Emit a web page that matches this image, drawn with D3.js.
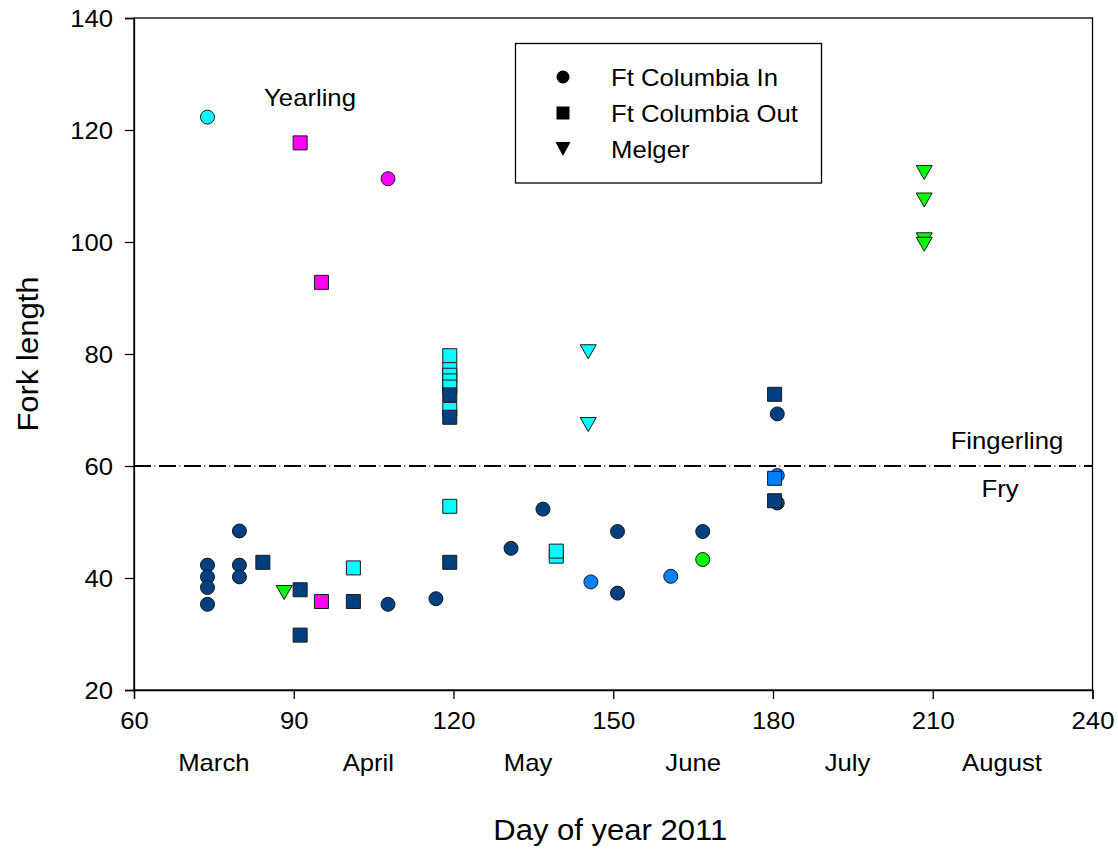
<!DOCTYPE html>
<html>
<head>
<meta charset="utf-8">
<script src="https://cdn.jsdelivr.net/npm/d3@7/dist/d3.min.js"></script>
<style>
  html, body { margin: 0; padding: 0; background: #fff; }
  svg { display: block; font-family: "Liberation Sans", Arial, sans-serif; }
</style>
</head>
<body>
<svg id="chart" width="1118" height="850"></svg>
<script>
// Fork length of juvenile fish by day of year, 2011.
// Each entry: [day of year, fork length, colour group]
const ftColumbiaIn = [
  [73.8, 122.3, "C"], [107.7, 111.3, "M"],
  [73.8, 42.3, "N"], [73.8, 40.2, "N"], [73.8, 38.3, "N"], [73.8, 35.3, "N"],
  [79.8, 48.4, "N"], [79.8, 42.3, "N"], [79.8, 40.2, "N"],
  [107.7, 35.3, "N"], [116.7, 36.3, "N"], [130.8, 45.3, "N"], [136.8, 52.3, "N"],
  [145.8, 39.3, "B"], [150.8, 48.3, "N"], [150.8, 37.3, "N"], [160.8, 40.3, "B"],
  [166.8, 48.3, "N"], [166.8, 43.3, "G"],
  [180.8, 69.3, "N"], [180.8, 58.3, "B"], [180.8, 53.4, "N"]
];

const ftColumbiaOut = [
  [91.2, 117.7, "M"], [95.2, 92.8, "M"],
  [84.2, 42.8, "N"], [91.2, 37.9, "N"], [91.2, 29.8, "N"], [95.2, 35.8, "M"],
  [101.2, 41.8, "C"], [101.2, 35.8, "N"],
  [119.3, 79.7, "C"], [119.3, 77.2, "C"], [119.3, 76.2, "C"], [119.3, 75.2, "C"],
  [119.3, 74.1, "C"], [119.3, 72.7, "N"], [119.3, 70.1, "C"], [119.3, 68.7, "N"],
  [119.3, 52.8, "C"], [119.3, 42.8, "N"],
  [139.3, 43.9, "C"], [139.3, 44.8, "C"],
  [180.3, 72.8, "N"], [180.3, 57.8, "B"], [180.3, 53.8, "N"]
];

const melger = [
  [88.2, 37.4, "G"], [145.3, 80.4, "C"], [145.3, 67.4, "C"],
  [208.4, 112.4, "G"], [208.4, 107.5, "G"], [208.4, 100.4, "G"], [208.4, 99.6, "G"]
];

const xTicks = [60, 90, 120, 150, 180, 210, 240];
const yTicks = [20, 40, 60, 80, 100, 120, 140];
const monthNames = ["March", "April", "May", "June", "July", "August"];
const monthDays = [75, 104, 134, 165, 194, 223];
const stageBoundary = 60;

const groupColor = {
  N: "#003f80",
  B: "#0080ff",
  C: "#00ffff",
  M: "#ff00ff",
  G: "#00ff00"
};

// text is drawn slightly widened
const SX = 1.07;
const FONT = 24;
const TITLE_FONT = 29;

const svg = d3.select("#chart");
const plot = { left: 134, right: 1092.5, top: 18, bottom: 690 };

const x = d3.scaleLinear().domain([60, 240]).range([plot.left, plot.right]);
const y = d3.scaleLinear().domain([20, 140]).range([plot.bottom, plot.top]);

function label(parent, px, py, str, size, anchor, extra = "") {
  return parent.append("text")
    .attr("transform", `translate(${px},${py}) ${extra} scale(${SX},1)`)
    .attr("text-anchor", anchor)
    .attr("fill", "#000")
    .style("font-size", size + "px")
    .text(str);
}

// frame
svg.append("rect")
  .attr("x", plot.left).attr("y", plot.top)
  .attr("width", plot.right - plot.left).attr("height", plot.bottom - plot.top)
  .attr("fill", "none").attr("stroke", "#000").attr("stroke-width", 1.3);

// axes
const xAxis = svg.append("g")
  .attr("transform", `translate(0,${plot.bottom})`)
  .call(d3.axisBottom(x).tickValues(xTicks).tickSize(9).tickPadding(12.5).tickFormat(d3.format("d")));
const yAxis = svg.append("g")
  .attr("transform", `translate(${plot.left},0)`)
  .call(d3.axisLeft(y).tickValues(yTicks).tickSize(9).tickPadding(12).tickFormat(d3.format("d")));

[xAxis, yAxis].forEach(g => {
  g.select(".domain").attr("stroke", "#000").attr("stroke-width", 1.3);
  g.selectAll(".tick line").attr("stroke", "#000").attr("stroke-width", 1.3);
  g.selectAll(".tick text").attr("fill", "#000").style("font-size", FONT + "px")
    .style("font-family", "'Liberation Sans', Arial, sans-serif")
    .attr("transform", `scale(${SX},1)`);
});
yAxis.selectAll(".tick text").attr("x", -21 / SX).attr("dy", "0.36em");

// month names under the day ticks
const months = svg.append("g");
monthNames.forEach((m, i) => label(months, x(monthDays[i]), 771, m, FONT, "middle"));

// axis titles
label(svg, (plot.left + plot.right) / 2 - 3, 840, "Day of year 2011", TITLE_FONT, "middle");
label(svg, 38, (plot.top + plot.bottom) / 2, "Fork length", TITLE_FONT, "middle", "rotate(-90)");

// fingerling / fry boundary
svg.append("line")
  .attr("x1", plot.left).attr("x2", plot.right)
  .attr("y1", y(stageBoundary)).attr("y2", y(stageBoundary))
  .attr("stroke", "#000").attr("stroke-width", 2)
  .attr("stroke-dasharray", "17,3.6,0.6,3.8");

label(svg, 1007, 449, "Fingerling", FONT, "middle");
label(svg, 1000, 497, "Fry", FONT, "middle");
label(svg, 310, 106, "Yearling", FONT, "middle");

// marker shapes
const circlePath = r => `M${-r},0A${r},${r} 0 1,0 ${r},0A${r},${r} 0 1,0 ${-r},0Z`;
const squarePath = h => `M${-h},${-h}H${h}V${h}H${-h}Z`;
const downTriPath = (w, h) => `M${-w},${-h}H${w}L0,${h}Z`;

const shapes = {
  circle: circlePath(7),
  square: squarePath(7),
  triangle: downTriPath(8, 7)
};

function drawSeries(data, shape) {
  svg.append("g").selectAll("path")
    .data(data)
    .join("path")
    .attr("transform", d => `translate(${x(d[0])},${y(d[1])})`)
    .attr("d", shapes[shape])
    .attr("fill", d => groupColor[d[2]])
    .attr("stroke", "#1a1a1a")
    .attr("stroke-width", 1);
}

drawSeries(ftColumbiaIn, "circle");
drawSeries(ftColumbiaOut, "square");
drawSeries(melger, "triangle");

// legend
const legendItems = [
  { label: "Ft Columbia In", shape: circlePath(6.5) },
  { label: "Ft Columbia Out", shape: squarePath(6.5) },
  { label: "Melger", shape: downTriPath(7.5, 7) }
];
const legend = svg.append("g");
legend.append("rect")
  .attr("x", 515.5).attr("y", 43.5).attr("width", 306).attr("height", 139.5)
  .attr("fill", "#fff").attr("stroke", "#000").attr("stroke-width", 1.3);
const rowY = [77, 113, 149];
legendItems.forEach((item, i) => {
  legend.append("path")
    .attr("transform", `translate(563,${rowY[i]})`)
    .attr("d", item.shape)
    .attr("fill", "#000");
  label(legend, 611, rowY[i] + 8.5, item.label, FONT, "start");
});
</script>
</body>
</html>
